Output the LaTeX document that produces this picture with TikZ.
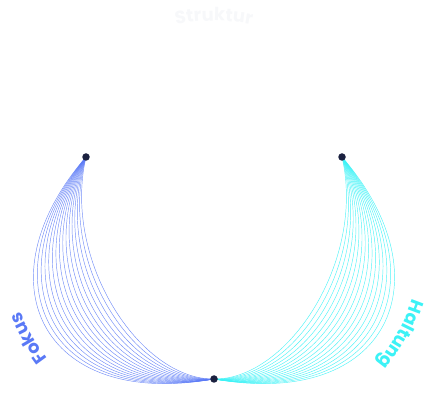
\documentclass[tikz,border=0pt]{standalone}
\usepackage{fontspec}
\setmainfont{Poppins}
\newfontfamily\lblfont{Poppins}[LetterSpace=5]
\usetikzlibrary{decorations.text}
\definecolor{fokusc}{HTML}{5A79F6}
\definecolor{haltc}{HTML}{3CF2F6}
\definecolor{strukc}{HTML}{F7F8FA}
\definecolor{dotc}{HTML}{1B2140}
\tikzset{
  dotnode/.style={circle,fill=dotc,inner sep=0pt,minimum size=7.5pt},
  fokusline/.style={draw=fokusc,line width=0.45pt,opacity=0.85},
  haltline/.style={draw=haltc,line width=0.45pt,opacity=0.9},
  arclabel/.style={decorate,decoration={text along path,text align=center,text color=#1}}
}
\begin{document}
\begin{tikzpicture}[x=1pt,y=1pt]
\useasboundingbox (0,0) rectangle (428,404);
\coordinate (o) at (214,173);
% connectors
\foreach \i in {0,...,15}{
  \pgfmathsetmacro{\t}{\i/15}
  \pgfmathsetmacro{\ax}{62-82*\t}
  \pgfmathsetmacro{\ay}{144-20*\t}
  \pgfmathsetmacro{\bx}{140-100*\t}
  \pgfmathsetmacro{\by}{24-30*\t}
  \draw[fokusline] (86,247) .. controls (\ax,\ay) and (\bx,\by) .. (214,25);
  \pgfmathsetmacro{\cx}{428-\ax}
  \pgfmathsetmacro{\dx}{428-\bx}
  \draw[haltline] (342,247) .. controls (\cx,\ay) and (\dx,\by) .. (214,25);
}
\node[dotnode] (a) at (86,247) {};
\node[dotnode] (c) at (342,247) {};
\node[dotnode] (b) at (214,25) {};
% labels
\path[arclabel=strukc,decoration={text={|\lblfont\fontsize{18}{21}\selectfont\bfseries|Struktur}}]
  (o) ++(120:210) arc[start angle=120,end angle=60,radius=210];
\path[arclabel=fokusc,decoration={text={|\lblfont\fontsize{18}{21}\selectfont\bfseries|Fokus}}]
  (o) ++(240:210) arc[start angle=240,end angle=180,radius=210];
\path[arclabel=haltc,decoration={text={|\lblfont\fontsize{18}{21}\selectfont\bfseries|Haltung}}]
  (o) ++(361:210) arc[start angle=361,end angle=301,radius=210];
\end{tikzpicture}
\end{document}
